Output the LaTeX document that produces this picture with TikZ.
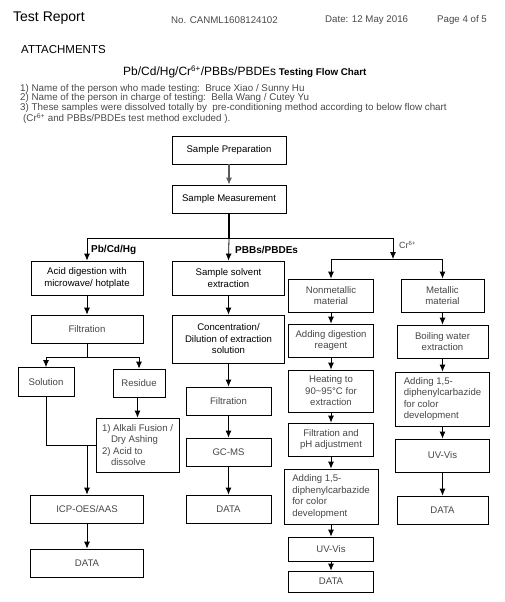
\documentclass[tikz,border=0pt]{standalone}
\usepackage{fontspec}
\setmainfont{Liberation Sans}
\usetikzlibrary{calc, arrows.meta}

\begin{document}
\begin{tikzpicture}[x=1pt, y=-1pt, >={Latex[length=7pt,width=6pt]},
    box/.style={draw=borderColour, line width=0.8pt, align=center, inner sep=1pt,
        text=boxText, font=\fontsize{9.6}{11.5}\selectfont},
    darkbox/.style={box, text=black},
    leftbox/.style={box, align=left, inner sep=3pt},
    flow/.style={->, line width=0.8pt, draw=borderColour},
    branch/.style={anchor=west, inner sep=0pt, font=\bfseries\fontsize{10}{12}\selectfont}]

    % Define colours
    \definecolor{borderColour}{HTML}{000000}
    \definecolor{boxText}{HTML}{474747}
    \definecolor{noteText}{HTML}{4A4A4A}
    \definecolor{arrowGrey}{HTML}{5A5A5A}

    % Page area
    \fill[white] (0,0) rectangle (505,602);

    % Page header
    \node[anchor=west, inner sep=0pt, font=\fontsize{14}{16}\selectfont] (report) at (13,18) {Test Report};
    \node[anchor=west, inner sep=0pt, text=noteText, font=\fontsize{9.7}{12}\selectfont] (repNo) at (171,20) {No. CANML1608124102};
    \node[anchor=west, inner sep=0pt, text=noteText, font=\fontsize{9.7}{12}\selectfont] (repDate) at (325,20) {Date: 12 May 2016};
    \node[anchor=west, inner sep=0pt, text=noteText, font=\fontsize{9.7}{12}\selectfont] (repPage) at (437,20) {Page 4 of 5};
    \node[anchor=west, inner sep=0pt, font=\fontsize{11.5}{13}\selectfont] (attach) at (21,50) {ATTACHMENTS};

    % Title and notes
    \node[anchor=west, inner sep=0pt] (title) at (123,72)
        {{\fontsize{12}{14}\selectfont Pb/Cd/Hg/Cr\textsuperscript{6+}/PBBs/PBDEs} {\bfseries\fontsize{9.8}{12}\selectfont Testing Flow Chart}};
    \node[anchor=north west, inner sep=0pt, align=left, text=noteText, font=\fontsize{9.8}{9.5}\selectfont] (notes) at (20,84)
        {1) Name of the person who made testing:\ \ Bruce Xiao / Sunny Hu\\
         2) Name of the person in charge of testing:\ \ Bella Wang / Cutey Yu\\
         3) These samples were dissolved totally by\ \ pre-conditioning method according to below flow chart\\
         \hspace*{3pt}(Cr\textsuperscript{6+} and PBBs/PBDEs test method excluded ).};

    % Common steps
    \node[darkbox, minimum width=114, minimum height=28] (prep) at (229,150) {Sample Preparation};
    \node[darkbox, minimum width=114, minimum height=28] (meas) at (229,199) {Sample Measurement};

    % Pb/Cd/Hg column
    \node[darkbox, minimum width=112, minimum height=34] (acid) at (87,278) {Acid digestion with\\microwave/ hotplate};
    \node[box, minimum width=112, minimum height=28] (filtL) at (87,329) {Filtration};
    \node[box, minimum width=56, minimum height=29] (soln) at (46,382) {Solution};
    \node[box, minimum width=52, minimum height=28] (resid) at (139,383) {Residue};
    \node[leftbox, minimum width=83, minimum height=54] (alkali) at (137.5,445)
        {1) Alkali Fusion /\\\hspace*{9pt}Dry Ashing\\2) Acid to\\\hspace*{9pt}dissolve};
    \node[box, minimum width=113, minimum height=28] (icp) at (87,509) {ICP-OES/AAS};
    \node[box, minimum width=113, minimum height=28] (dataL) at (87,563) {DATA};

    % PBBs/PBDEs column
    \node[darkbox, minimum width=112, minimum height=34] (solv) at (228.5,278) {Sample solvent\\extraction};
    \node[darkbox, minimum width=112, minimum height=48] (conc) at (228.5,339) {Concentration/\\Dilution of extraction\\solution};
    \node[box, minimum width=85, minimum height=28] (filtM) at (228.5,401) {Filtration};
    \node[box, minimum width=85, minimum height=28] (gcms) at (228.5,452) {GC-MS};
    \node[box, minimum width=85, minimum height=28] (dataM) at (228.5,509) {DATA};

    % Cr6+ nonmetallic column
    \node[box, minimum width=85, minimum height=33] (nonmet) at (331,295.5) {Nonmetallic\\material};
    \node[box, minimum width=85, minimum height=33] (digest) at (331,340.5) {Adding digestion\\reagent};
    \node[box, minimum width=85, minimum height=42] (heat) at (331,391) {Heating to\\90{\textasciitilde}95°C for\\extraction};
    \node[box, minimum width=85, minimum height=33] (filtPH) at (331,439.5) {Filtration and\\pH adjustment};
    \node[leftbox, minimum width=94, minimum height=55] (addM) at (331,496.5)
        {Adding 1,5-\\diphenylcarbazide\\for color\\development};
    \node[box, minimum width=85, minimum height=24] (uvM) at (331,549) {UV-Vis};
    \node[box, minimum width=85, minimum height=21] (dataR) at (331,581.5) {DATA};

    % Cr6+ metallic column
    \node[box, minimum width=83, minimum height=33] (metal) at (442.5,295.5) {Metallic\\material};
    \node[box, minimum width=91, minimum height=33] (boil) at (442.5,341.5) {Boiling water\\extraction};
    \node[leftbox, minimum width=94, minimum height=54] (addR) at (442.5,399)
        {Adding 1,5-\\diphenylcarbazide\\for color\\development};
    \node[box, minimum width=94, minimum height=33] (uvR) at (442.5,455.5) {UV-Vis};
    \node[box, minimum width=91, minimum height=28] (dataRR) at (442.5,510) {DATA};

    % Split into the three methods
    \coordinate (split) at (229,238);
    \coordinate (splitL) at (87,238);
    \coordinate (splitR) at (393,238);
    \coordinate (crSplit) at (393,259);
    \coordinate (crL) at (331,259);
    \coordinate (crR) at (442.5,259);
    \draw[->, line width=1.2pt, draw=arrowGrey] (prep) -- (meas);
    \draw[line width=1.6pt] (meas.south) -- (split);
    \draw[line width=0.8pt] (splitL) -- (splitR);
    \draw[flow] (splitL) -- (acid.north);
    \draw[flow] (split) -- (solv.north);
    \draw[flow] (splitR) -- (crSplit);
    \draw[line width=0.8pt] (crL) -- (crR);
    \draw[flow] (crL) -- (nonmet.north);
    \draw[flow] (crR) -- (metal.north);

    % Branch labels
    \node[branch] (lblPb) at (91,250) {Pb/Cd/Hg};
    \node[branch] (lblPBB) at (235,250) {PBBs/PBDEs};
    \node[anchor=west, inner sep=0pt, text=boxText, font=\fontsize{9}{11}\selectfont] (lblCr) at (399,245) {Cr\textsuperscript{6+}};

    % Pb/Cd/Hg connectors
    \coordinate (filtSplit) at (87,357);
    \draw[flow] (acid) -- (filtL);
    \draw[line width=0.8pt] (filtL.south) -- (filtSplit);
    \draw[line width=0.8pt] (soln.north |- filtSplit) -- (resid.north |- filtSplit);
    \draw[flow] (soln.north |- filtSplit) -- (soln.north);
    \draw[flow] (resid.north |- filtSplit) -- (resid.north);
    \draw[flow] (resid.south -| alkali.north) -- (alkali.north);
    \draw[line width=0.8pt] (soln.south) |- (alkali.west);
    \draw[flow] (icp.north |- alkali.west) -- (icp.north);
    \draw[flow] (icp) -- (dataL);

    % Straight column connectors
    \foreach \a/\b in {solv/conc, conc/filtM, filtM/gcms, gcms/dataM,
                       nonmet/digest, digest/heat, heat/filtPH, filtPH/addM, addM/uvM, uvM/dataR,
                       metal/boil, boil/addR, addR/uvR, uvR/dataRR}
        \draw[flow] (\a) -- (\b);

\end{tikzpicture}
\end{document}
